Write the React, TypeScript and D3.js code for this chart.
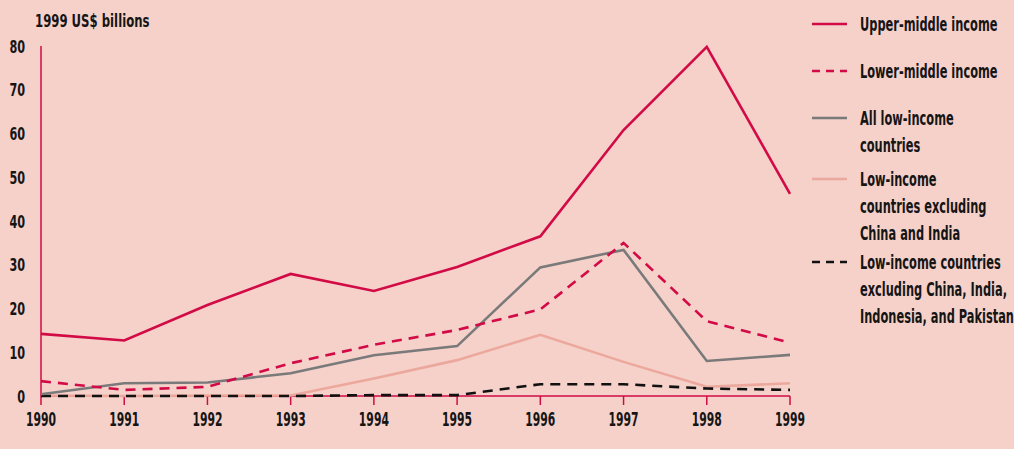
import { useMemo } from "react";
import * as d3 from "d3";

const WIDTH = 1014;
const HEIGHT = 449;
const MARGIN = { top: 46, right: 224, bottom: 53, left: 41 };

const BG = "#f5d1ca";
const CRIMSON = "#d20a45";
const INK = "#151515";
const FONT = "'DejaVu Sans', sans-serif";

const years = [1990, 1991, 1992, 1993, 1994, 1995, 1996, 1997, 1998, 1999];
const yTicks = [0, 10, 20, 30, 40, 50, 60, 70, 80];

const upperMiddle = [14.2, 12.7, 20.8, 27.9, 24.0, 29.5, 36.5, 60.8, 79.8, 46.2];
const lowerMiddle = [3.4, 1.4, 2.1, 7.5, 11.7, 15.1, 19.8, 35.0, 17.1, 12.2];
const allLowIncome = [0.4, 2.9, 3.1, 5.2, 9.3, 11.4, 29.4, 33.4, 8.0, 9.4];
const lowExChinaIndia = [0.1, 0.0, 0.1, 0.1, 4.0, 8.2, 14.0, 7.8, 2.1, 2.9];
const lowExFour = [0.0, 0.0, 0.0, 0.0, 0.2, 0.2, 2.7, 2.7, 1.7, 1.4];

const seriesNames = [
  ["Upper-middle income"],
  ["Lower-middle income"],
  ["All low-income", "countries"],
  ["Low-income", "countries excluding", "China and India"],
  ["Low-income countries", "excluding China, India,", "Indonesia, and Pakistan"],
];

const series = [
  { values: upperMiddle, color: CRIMSON, dash: null },
  { values: lowerMiddle, color: CRIMSON, dash: "10,7" },
  { values: allLowIncome, color: "#7a7a7a", dash: null },
  { values: lowExChinaIndia, color: "#eca89c", dash: null },
  { values: lowExFour, color: "#111111", dash: "10,7" },
];

// legend key line y for each series
const legendRows = [24, 71, 118, 179, 262];

// condensed look: squeeze DejaVu horizontally
const Narrow = ({
  x,
  y,
  sx,
  size,
  anchor = "start",
  children,
}: {
  x: number;
  y: number;
  sx: number;
  size: number;
  anchor?: string;
  children: any;
}) => (
  <text
    transform={`translate(${x},${y}) scale(${sx},1)`}
    textAnchor={anchor}
    fontSize={size}
    fill={INK}
  >
    {children}
  </text>
);

export default function App() {
  const { x, y } = useMemo(() => {
    const x = d3
      .scaleLinear()
      .domain([1990, 1999])
      .range([MARGIN.left, WIDTH - MARGIN.right]);
    const y = d3
      .scaleLinear()
      .domain([0, 80])
      .range([HEIGHT - MARGIN.bottom, MARGIN.top]);
    return { x, y };
  }, []);

  const line = d3
    .line<[number, number]>()
    .x((d) => x(d[0]))
    .y((d) => y(d[1]));

  const drawOrder = [3, 4, 2, 1, 0];

  return (
    <svg
      width={WIDTH}
      height={HEIGHT}
      style={{ position: "absolute", left: 0, top: 0, background: BG }}
      fontFamily={FONT}
      fontWeight="bold"
    >
      <rect width={WIDTH} height={HEIGHT} fill={BG} />

      <Narrow x={35} y={27} sx={0.65} size={18}>
        1999 US$ billions
      </Narrow>

      {/* y labels */}
      {yTicks.map((t) => (
        <Narrow key={t} x={25} y={y(t) + 6.5} sx={0.66} size={17} anchor="end">
          {t}
        </Narrow>
      ))}

      {/* axes */}
      <line
        x1={x(1990)}
        x2={x(1990)}
        y1={y(80)}
        y2={y(0)}
        stroke={CRIMSON}
        strokeWidth={1.5}
      />
      <line
        x1={x(1990)}
        x2={x(1999)}
        y1={y(0)}
        y2={y(0)}
        stroke={CRIMSON}
        strokeWidth={1.5}
      />
      {years.map((yr) => (
        <g key={yr}>
          <line
            x1={x(yr)}
            x2={x(yr)}
            y1={y(0)}
            y2={y(0) + 9}
            stroke={CRIMSON}
            strokeWidth={1.5}
          />
          <Narrow x={x(yr)} y={426} sx={0.54} size={20} anchor="middle">
            {yr}
          </Narrow>
        </g>
      ))}

      {/* lines */}
      {drawOrder.map((i) => {
        const s = series[i];
        const pts = years.map((yr, j) => [yr, s.values[j]] as [number, number]);
        return (
          <path
            key={i}
            d={line(pts) ?? ""}
            fill="none"
            stroke={s.color}
            strokeWidth={2.6}
            strokeDasharray={s.dash ?? undefined}
            strokeLinejoin="miter"
          />
        );
      })}

      {/* legend */}
      {series.map((s, i) => (
        <g key={i}>
          <line
            x1={812}
            x2={847}
            y1={legendRows[i]}
            y2={legendRows[i]}
            stroke={s.color}
            strokeWidth={2.6}
            strokeDasharray={s.dash ? "8,6" : undefined}
          />
          {seriesNames[i].map((t, k) => (
            <Narrow key={k} x={860} y={legendRows[i] + 7 + k * 27} sx={0.6} size={19}>
              {t}
            </Narrow>
          ))}
        </g>
      ))}
    </svg>
  );
}
